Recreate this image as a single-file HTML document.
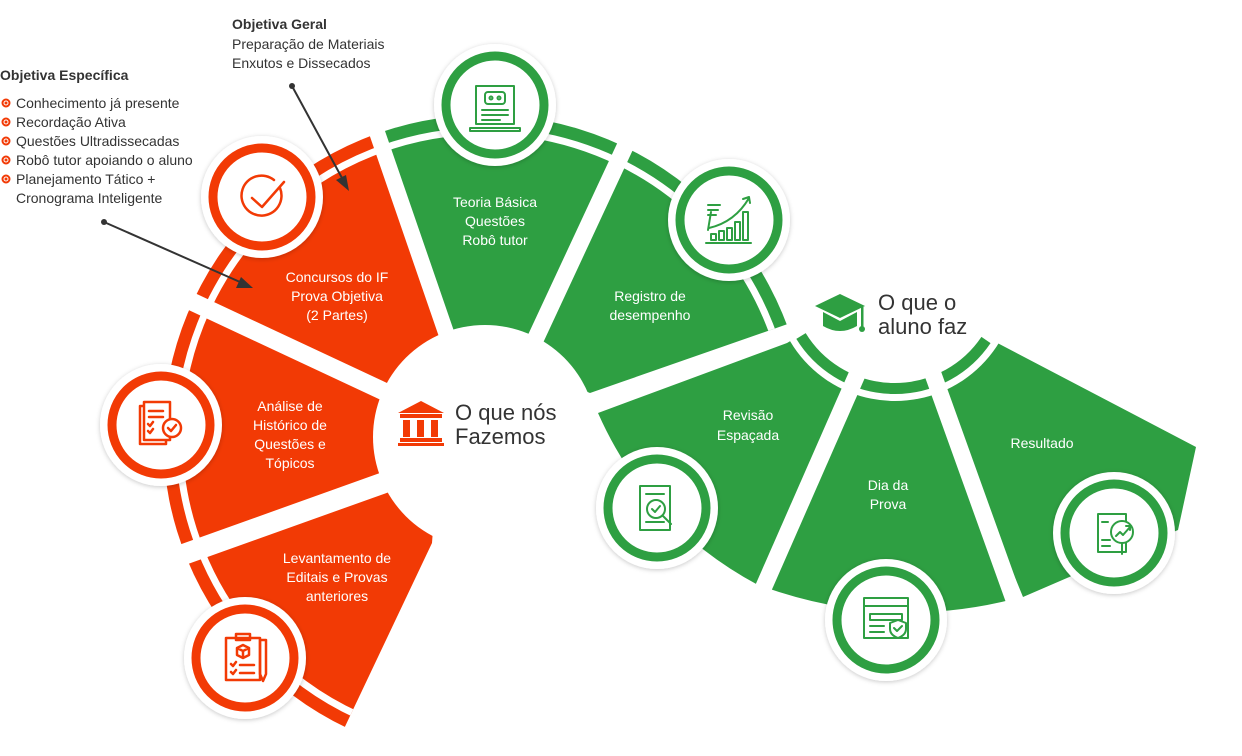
<!DOCTYPE html>
<html><head><meta charset="utf-8"><style>
html,body{margin:0;padding:0;background:#fff;}
body{width:1242px;height:756px;overflow:hidden;position:relative;font-family:"Liberation Sans",sans-serif;}
svg{position:absolute;left:0;top:0;}
.t{font-family:"Liberation Sans",sans-serif;font-size:14px;fill:#fff;text-anchor:middle;}
.a{font-family:"Liberation Sans",sans-serif;font-size:14px;fill:#333;}
.h{font-family:"Liberation Sans",sans-serif;font-size:22px;fill:#333;}
</style></head><body>
<svg width="1242" height="756" viewBox="0 0 1242 756">
<defs>
<clipPath id="co"><polygon points="447,335 297,-100 -200,-100 -200,925 251,925 432,543"/></clipPath>
<clipPath id="cg"><polygon points="447,335 297,-100 1200,-100 1200,180 590,393"/></clipPath>
<filter id="sh" x="-30%" y="-30%" width="160%" height="160%"><feDropShadow dx="0" dy="1" stdDeviation="2.5" flood-color="#000" flood-opacity="0.22"/></filter>
</defs>

<!-- FAN 2 -->
<g fill="#2E9F42">
<path d="M895 279 L787 343 L598 413 Q648 526 758 585 L858 372 Z"/>
<path d="M858 372 L764 587 Q889 631 1014 599 L930 365 Z"/>
<path d="M900 292 L1196 447 L1178 530 L1023 597 L942 399 L930 365 Z"/>
</g>
<circle cx="895" cy="279" r="122" fill="#fff"/>
<path d="M986 340 A110 110 0 0 1 801 336" fill="none" stroke="#2E9F42" stroke-width="11"/>
<g stroke="#fff" stroke-width="17" stroke-linecap="butt">
<line x1="870" y1="345" x2="755" y2="607"/>
<line x1="920" y1="338" x2="1022" y2="622"/>
</g>

<!-- FAN 1 -->
<g clip-path="url(#co)">
<circle cx="485" cy="437" r="322" fill="#F23A05"/>
<circle cx="485" cy="437" r="306" fill="none" stroke="#fff" stroke-width="7"/>
</g>
<g clip-path="url(#cg)">
<circle cx="485" cy="437" r="322" fill="#2E9F42"/>
<circle cx="485" cy="437" r="306" fill="none" stroke="#fff" stroke-width="7"/>
</g>
<g stroke="#fff" stroke-linecap="butt">
<line x1="400" y1="399" x2="150" y2="282" stroke-width="18"/>
<line x1="400" y1="477" x2="140" y2="570" stroke-width="21"/>
<line x1="452" y1="350" x2="370" y2="112" stroke-width="16"/>
<line x1="528" y1="355" x2="636" y2="123" stroke-width="17"/>
</g>
<circle cx="485" cy="437" r="112" fill="#fff"/>

<!-- segment labels -->
<text class="t" x="337" y="282">Concursos do IF</text>
<text class="t" x="337" y="301">Prova Objetiva</text>
<text class="t" x="337" y="320">(2 Partes)</text>
<text class="t" x="495" y="207">Teoria Básica</text>
<text class="t" x="495" y="226">Questões</text>
<text class="t" x="495" y="245">Robô tutor</text>
<text class="t" x="650" y="301">Registro de</text>
<text class="t" x="650" y="320">desempenho</text>
<text class="t" x="290" y="411">Análise de</text>
<text class="t" x="290" y="430">Histórico de</text>
<text class="t" x="290" y="449">Questões e</text>
<text class="t" x="290" y="468">Tópicos</text>
<text class="t" x="337" y="563">Levantamento de</text>
<text class="t" x="337" y="582">Editais e Provas</text>
<text class="t" x="337" y="601">anteriores</text>
<text class="t" x="748" y="420">Revisão</text>
<text class="t" x="748" y="440">Espaçada</text>
<text class="t" x="888" y="490">Dia da</text>
<text class="t" x="888" y="509">Prova</text>
<text class="t" x="1042" y="448">Resultado</text>

<!-- center labels -->
<text class="h" x="455" y="420">O que nós</text>
<text class="h" x="455" y="444">Fazemos</text>
<g fill="#F23A05">
<polygon points="421,401 398,413 444,413"/>
<rect x="400" y="414" width="42" height="4"/>
<rect x="403" y="420" width="7" height="17"/><rect x="417" y="420" width="7" height="17"/><rect x="431" y="420" width="7" height="17"/>
<rect x="400" y="438" width="42" height="4"/><rect x="398" y="443" width="46" height="3"/>
</g>
<text class="h" x="878" y="310">O que o</text>
<text class="h" x="878" y="334">aluno faz</text>
<g fill="#2E9F42">
<polygon points="840,294 815,306 840,318 865,306"/>
<path d="M823 312 L823 326 Q840 336 857 326 L857 312 L840 321 Z"/>
<rect x="861" y="307" width="2.5" height="20"/><circle cx="862" cy="329" r="3"/>
</g>

<!-- icons -->
<g filter="url(#sh)" fill="#fff">
<circle cx="262" cy="197" r="61"/>
<circle cx="495" cy="105" r="61"/>
<circle cx="729" cy="220" r="61"/>
<circle cx="161" cy="425" r="61"/>
<circle cx="245" cy="658" r="61"/>
<circle cx="657" cy="508" r="61"/>
<circle cx="886" cy="620" r="61"/>
<circle cx="1114" cy="533" r="61"/>
</g>
<g fill="#fff" stroke-width="9">
<circle cx="262" cy="197" r="49" stroke="#F23A05"/>
<circle cx="161" cy="425" r="49" stroke="#F23A05"/>
<circle cx="245" cy="658" r="49" stroke="#F23A05"/>
<circle cx="495" cy="105" r="49" stroke="#2E9F42"/>
<circle cx="729" cy="220" r="49" stroke="#2E9F42"/>
<circle cx="657" cy="508" r="49" stroke="#2E9F42"/>
<circle cx="886" cy="620" r="49" stroke="#2E9F42"/>
<circle cx="1114" cy="533" r="49" stroke="#2E9F42"/>
</g>
<!-- glyphs -->
<g fill="none" stroke="#F23A05" stroke-width="2.5" stroke-linecap="round" stroke-linejoin="round">
<path d="M280 188 A20 20 0 1 1 274 180"/>
<path d="M252 198 L262 207 L284 182"/>
<rect x="140" y="406" width="26" height="38"/><rect x="144" y="402" width="26" height="38" fill="#fff"/>
<path d="M149 411 h14 M149 417 h14 M148 424 l2 2 3-4 M148 431 l2 2 3-4"/>
<circle cx="172" cy="428" r="9" fill="#fff"/><path d="M168 428 l3 3 5-6"/>
<rect x="226" y="638" width="34" height="42"/><rect x="236" y="634" width="14" height="6"/>
<path d="M243 645 l6 3 v7 l-6 3 -6-3 v-7 z M237 648 l6 3 6-3 M243 651 v7"/>
<path d="M231 664 l2 2 3-4 M240 665 h14 M231 672 l2 2 3-4 M240 673 h14"/>
<path d="M266 640 v34 l-3 7 -3-7 v-34 z"/>
</g>
<g fill="none" stroke="#2E9F42" stroke-width="2" stroke-linecap="round" stroke-linejoin="round">
<rect x="476" y="86" width="38" height="38"/><path d="M470 128 h50 v3 h-50 z"/>
<rect x="485" y="92" width="20" height="12" rx="3"/><circle cx="491" cy="98" r="1.5"/><circle cx="499" cy="98" r="1.5"/>
<path d="M482 110 h26 M482 115 h26 M482 120 h18"/>
<path d="M708 230 l3-18 M708 205 h12 M708 210 h10 M708 215 h8"/>
<rect x="711" y="234" width="5" height="6"/><rect x="719" y="231" width="5" height="9"/><rect x="727" y="228" width="5" height="12"/><rect x="735" y="222" width="5" height="18"/><rect x="743" y="212" width="5" height="28"/>
<path d="M706 243 h45 M709 228 Q735 222 749 198 M743 199 l6-2 1 6"/>
<rect x="640" y="486" width="30" height="44"/><path d="M646 494 h18 M646 522 h18"/>
<circle cx="656" cy="509" r="9"/><path d="M652 509 l3 3 5-6 M663 516 l8 8"/>
<rect x="864" y="598" width="44" height="40"/><path d="M864 606 h44 M870 614 h32 v6 h-32 z M870 626 h14 M870 632 h14"/>
<path d="M898 620 l8 3 v6 q0 6 -8 9 q-8-3 -8-9 v-6 z M894 628 l3 3 5-5"/>
<rect x="1098" y="514" width="28" height="38"/><path d="M1102 522 h6 M1102 540 h8 M1102 546 h8"/>
<circle cx="1122" cy="532" r="11" fill="#fff"/><path d="M1116 536 l4-4 3 3 7-8 M1126 526 h4 v4 M1122 543 v11"/>
</g>

<!-- annotations -->
<text class="a" x="232" y="29" font-weight="bold">Objetiva Geral</text>
<text class="a" x="232" y="49">Preparação de Materiais</text>
<text class="a" x="232" y="68">Enxutos e Dissecados</text>
<text class="a" x="0" y="80" font-weight="bold">Objetiva Específica</text>
<text class="a" x="16" y="108">Conhecimento já presente</text>
<text class="a" x="16" y="127">Recordação Ativa</text>
<text class="a" x="16" y="146">Questões Ultradissecadas</text>
<text class="a" x="16" y="165">Robô tutor apoiando o aluno</text>
<text class="a" x="16" y="184">Planejamento Tático +</text>
<text class="a" x="16" y="203">Cronograma Inteligente</text>
<g fill="#fff" stroke="#F23A05" stroke-width="2">
<circle cx="6" cy="103" r="3.5"/><circle cx="6" cy="122" r="3.5"/><circle cx="6" cy="141" r="3.5"/><circle cx="6" cy="160" r="3.5"/><circle cx="6" cy="179" r="3.5"/>
</g>
<g fill="#F23A05"><circle cx="6" cy="103" r="1.5"/><circle cx="6" cy="122" r="1.5"/><circle cx="6" cy="141" r="1.5"/><circle cx="6" cy="160" r="1.5"/><circle cx="6" cy="179" r="1.5"/></g>
<g stroke="#333" stroke-width="2" fill="#333">
<line x1="292" y1="86" x2="342" y2="178"/>
<polygon points="349,191 336,180 346,175" stroke="none"/>
<circle cx="292" cy="86" r="3" stroke="none"/>
<line x1="104" y1="222" x2="240" y2="282"/>
<polygon points="253,288 236,288 241,277" stroke="none"/>
<circle cx="104" cy="222" r="3" stroke="none"/>
</g>
</svg>
</body></html>
